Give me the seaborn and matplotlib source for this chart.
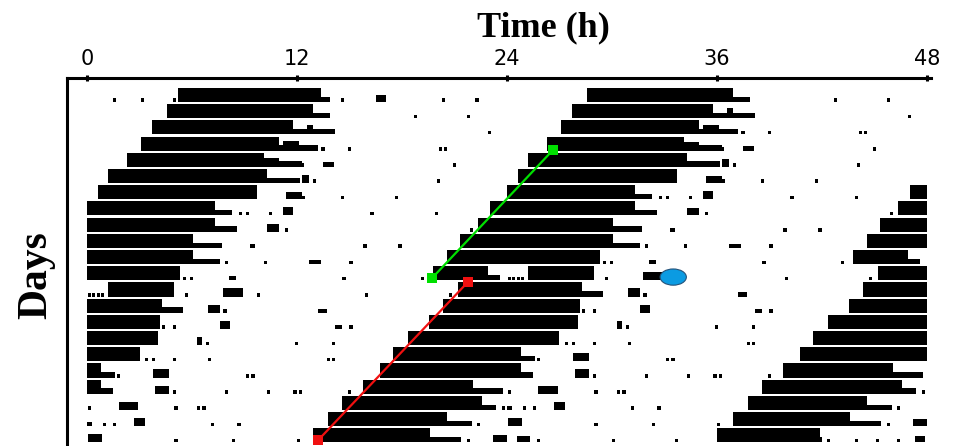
import numpy as np
import pandas as pd
import seaborn as sns
import matplotlib.pyplot as plt
from matplotlib.patches import Ellipse

# activity bouts (hours counted from the start of day 0)
bout_onset = [5.2, 28.57, 51.7, 75.1, 98.3, 121.2, 144.63, 168.0, 191.03, 214.34,
              237.31, 260.57, 283.77, 309.2, 332.34, 355.54, 378.34, 401.49, 424.74,
              447.77, 470.57, 493.77, 516.91, 540.0]
bout_main_end = [13.4, 36.9, 59.8, 83.0, 106.1, 130.3, 153.7, 175.3, 199.3, 222.06,
                 246.06, 269.3, 286.9, 316.3, 340.2, 364.06, 387.0, 408.8, 432.8,
                 454.06, 478.6, 500.6, 523.6, 545.9]
bout_tail_end = [13.9, 37.9, 62.2, 85.2, 108.3, 132.2, 153.7, 176.3, 200.6, 223.7,
                 247.6, 269.3, 287.6, 317.5, 340.2, 364.06, 387.0, 409.6, 433.5,
                 455.8, 479.4, 502.0, 525.4, 546.0]

# isolated counts (day, hour of day)
dot_day = [0, 0, 0, 0, 0, 0, 1, 1, 2, 3, 3, 3, 3, 4, 4, 5, 5, 6, 6, 6,
           7, 7, 7, 7, 7, 8, 8, 9, 9, 10, 10, 10, 11, 11, 11, 11,
           12, 12, 12, 12, 12, 12, 12, 12, 13, 14, 14, 14, 15, 15, 15,
           16, 16, 16, 16, 16, 16, 17, 17, 17, 18, 18, 18, 18, 18, 18,
           19, 19, 19, 19, 19, 20, 20, 20, 20, 20, 21, 21, 21, 21,
           22, 22, 22, 22, 22, 22, 22]
dot_hour = [1.5, 3.1, 4.9, 14.5, 20.3, 22.2, 18.7, 21.7, 22.9, 13.4, 14.9, 20.1, 20.4,
            12.2, 20.9, 12.9, 20.0, 12.3, 14.5, 17.6,
            8.7, 9.1, 10.4, 16.2, 19.9, 11.3, 21.9, 15.8, 17.8, 7.9, 10.1, 15.0,
            5.5, 5.9, 14.6, 19.1,
            0.05, 0.3, 0.55, 0.8, 5.6, 9.7, 15.9, 20.7, 7.8, 4.3, 4.9, 15.0, 6.8, 11.9, 14.0,
            3.3, 3.7, 4.9, 6.9, 13.7, 14.0, 1.7, 9.1, 9.4, 4.9, 7.9, 10.3, 11.8, 12.1, 14.9,
            0.06, 5.0, 6.3, 6.6, 23.7, 0.9, 1.5, 7.1, 8.6, 22.3, 5.0, 8.3, 12.0, 21.7,
            1.7, 6.0, 9.6, 18.3, 19.9, 21.1, 22.3]

# small bursts (day, start hour, end hour, relative height)
bump_day = [0, 2, 3, 4, 4, 5, 6, 7, 8, 9, 10, 11, 12, 12, 13, 13, 14, 14, 15,
            17, 18, 19, 20, 20, 21, 21, 22, 22]
bump_start = [16.5, 12.6, 11.2, 10.1, 13.5, 12.3, 11.4, 11.2, 10.3, 9.3, 12.7, 8.1, 1.2, 7.8,
              6.9, 13.2, 7.6, 14.2, 6.3, 3.8, 3.9, 1.8, 0.0, 2.7, 0.06, 23.2, 0.6, 23.3]
bump_end = [17.1, 12.9, 12.1, 11.0, 14.1, 12.7, 12.3, 11.8, 11.0, 9.6, 13.4, 8.5, 5.0, 8.9,
            7.6, 13.7, 8.2, 14.6, 6.6, 4.7, 4.7, 2.9, 0.3, 3.3, 0.86, 24.0, 1.3, 23.9]
bump_height = [0.45, 0.6, 0.6, 0.55, 0.3, 0.5, 0.45, 0.5, 0.45, 0.25, 0.25, 0.25, 0.87, 0.5,
               0.5, 0.25, 0.5, 0.25, 0.5, 0.5, 0.5, 0.5, 0.25, 0.5, 0.5, 0.45, 0.4, 0.4]

# phase markers and light pulse
green_x = [26.63, 19.71]
green_y = [3.96, 11.87]
red_x = [21.77, 13.2]
red_y = [12.1, 21.87]
pulse_x, pulse_y = 33.5, 11.8

n_rows = 22

segs = []
for on, me, te in zip(bout_onset, bout_main_end, bout_tail_end):
    segs.append((on, me, 0.87))
    if te > me:
        segs.append((me, te, 0.33))
for d, h in zip(dot_day, dot_hour):
    segs.append((24 * d + h, 24 * d + h + 0.18, 0.22))
for d, s, e, hh in zip(bump_day, bump_start, bump_end, bump_height):
    segs.append((24 * d + s, 24 * d + e, hh))

# double plot: row i shows days i and i+1
rows = []
for i in range(n_rows):
    lo, hi = 24 * i, 24 * i + 48
    for a, b, hh in segs:
        s, e = max(a, lo), min(b, hi)
        if e > s:
            rows.append({"row": i, "x": s - lo, "w": e - s, "h": hh})
df = pd.DataFrame(rows)

sns.set_style("white")
plt.rcParams.update({"text.color": "black", "axes.labelcolor": "black",
                     "xtick.color": "black"})
fig = plt.figure(figsize=(9.57, 4.46), dpi=100)
ax = fig.add_axes([67 / 957, 0, 864 / 957, 368 / 446])

ax.bar(df["x"], -df["h"], width=df["w"], bottom=df["row"] + 1, align="edge",
       color="black", linewidth=0)

sns.lineplot(x=green_x, y=green_y, sort=False, color="#00e000", lw=1.6, marker="s",
             markersize=7, markeredgewidth=0, ax=ax)
sns.lineplot(x=red_x, y=red_y, sort=False, color="#f01010", lw=1.6, marker="s",
             markersize=7, markeredgewidth=0, ax=ax)
ax.add_patch(Ellipse((pulse_x, pulse_y), 1.5, 1.0, facecolor="#0b9be2",
                     edgecolor="#24527a", lw=0.8, zorder=5))

ax.set_xlim(-1.143, 48.23)
ax.set_ylim(22.22, -0.48)
ax.set_xticks([0, 12, 24, 36, 48])
ax.xaxis.tick_top()
ax.tick_params(axis="x", direction="inout", length=5, width=2.2, pad=4,
               labelsize=15, colors="black")
ax.set_yticks([])
for side in ["right", "bottom"]:
    ax.spines[side].set_visible(False)
for side in ["top", "left"]:
    ax.spines[side].set_linewidth(2.2)
    ax.spines[side].set_color("black")

ax.xaxis.set_label_position("top")
ax.set_xlabel("Time (h)", fontsize=26, fontweight="bold", family="Liberation Serif",
              va="center", ha="center", color="black")
ax.xaxis.set_label_coords(0.551, 1.136)
ax.set_ylabel("Days", fontsize=30, fontweight="bold", family="Liberation Serif",
              va="center", ha="center", color="black")
ax.yaxis.set_label_coords(-0.036, 0.465)

fig.savefig("out.png", dpi=100)
